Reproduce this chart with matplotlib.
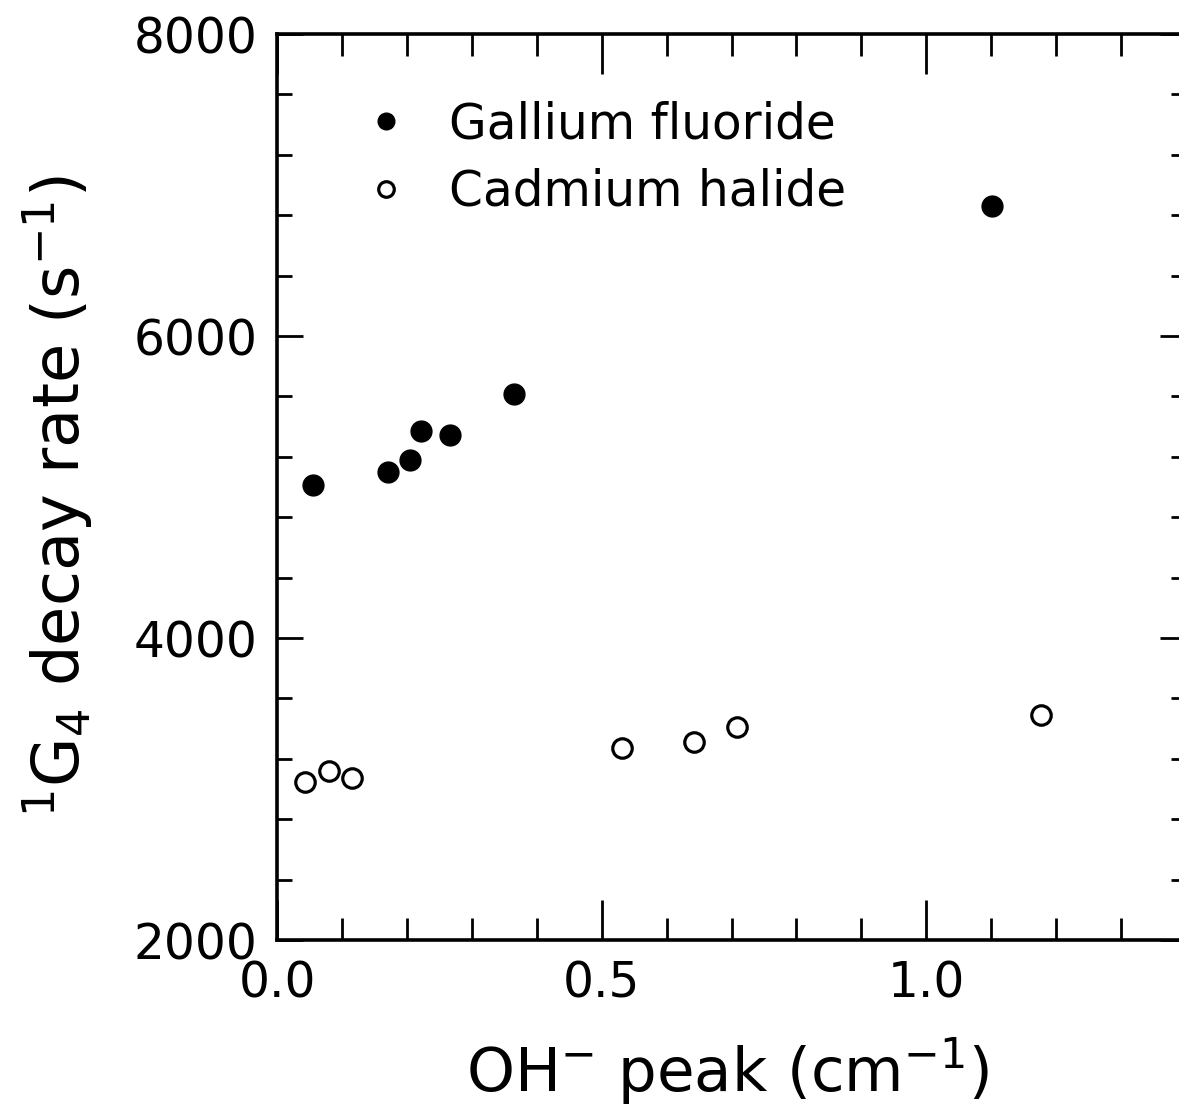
import numpy as np
import matplotlib.pyplot as plt
from matplotlib.ticker import MultipleLocator

# data
ga_x = [0.055, 0.171, 0.205, 0.222, 0.267, 0.365, 1.101]
ga_y = [5010, 5100, 5180, 5370, 5345, 5615, 6860]

cd_x = [0.043, 0.080, 0.115, 0.532, 0.643, 0.709, 1.177]
cd_y = [3045, 3120, 3075, 3270, 3310, 3410, 3490]

W, H = 1179, 1119
fig = plt.figure(figsize=(W / 100, H / 100), dpi=100)
ax = fig.add_axes([277 / W, (H - 940) / H, 909 / W, 906 / H])

ax.plot(ga_x, ga_y, "o", color="black", markersize=15, label="Gallium fluoride")
ax.plot(cd_x, cd_y, "o", mfc="white", mec="black", mew=2.3, markersize=14,
        label="Cadmium halide")

ax.set_xlim(0, 1.4)
ax.set_ylim(2000, 8000)

ax.xaxis.set_major_locator(MultipleLocator(0.5))
ax.xaxis.set_minor_locator(MultipleLocator(0.1))
ax.yaxis.set_major_locator(MultipleLocator(2000))
ax.yaxis.set_minor_locator(MultipleLocator(400))
ax.xaxis.set_major_formatter(lambda v, p: f"{v:.1f}")
ax.yaxis.set_major_formatter(lambda v, p: f"{v:.0f}")

ax.tick_params(which="both", direction="in", top=True, right=True,
               width=2, labelsize=35, colors="black")
ax.tick_params(axis="x", which="major", length=29, pad=14)
ax.tick_params(axis="x", which="minor", length=16)
ax.tick_params(axis="y", which="major", length=19, pad=14)
ax.tick_params(axis="y", which="minor", length=11)
for s in ax.spines.values():
    s.set_linewidth(2.6)

ax.set_xlabel(r"OH$^{-}$ peak (cm$^{-1}$)", fontsize=44)
ax.set_ylabel(r"$^{1}$G$_{4}$ decay rate (s$^{-1}$)", fontsize=46)
ax.xaxis.set_label_coords(0.496, -0.105)
ax.yaxis.set_label_coords(-0.2, 0.49)

leg = ax.legend(loc="upper left", bbox_to_anchor=(0.045, 0.975), frameon=False,
                fontsize=35, markerscale=0.8, handlelength=1.0,
                handletextpad=0.8, labelspacing=0.4)

fig.savefig("out.png", dpi=100)
